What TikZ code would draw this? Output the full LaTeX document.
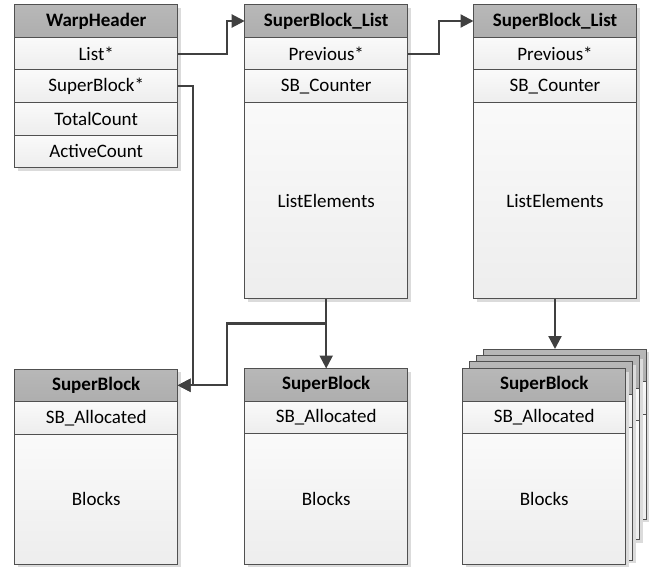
\documentclass[tikz,border=0pt]{standalone}
\usepackage{fontspec}
\setmainfont{Carlito}
\usetikzlibrary{positioning,shadows,arrows.meta}

\definecolor{hdrgray}{RGB}{174,174,174}
\definecolor{linegray}{RGB}{64,64,64}
\definecolor{edgegray}{RGB}{80,80,80}

\newcommand{\cellfont}{\fontsize{19}{22}\selectfont}

\tikzset{
  cell/.style={rectangle, draw=edgegray, line width=0.9pt, minimum width=163pt, minimum height=32.6pt,
    inner sep=0pt, outer sep=0pt, text centered, top color=white!98!black, bottom color=white!93!black,
    font=\cellfont,
    drop shadow={shadow xshift=3pt, shadow yshift=-3pt, fill=black!14, opacity=1}},
  header/.style={cell, top color=hdrgray!88!white, bottom color=hdrgray, font=\cellfont\bfseries},
  bigcell/.style={cell, minimum height=#1},
  link/.style={line width=2.2pt, draw=linegray, -{Triangle[length=13pt,width=13pt]}},
}

\begin{document}
\begin{tikzpicture}[x=1pt, y=-1pt]
\useasboundingbox (0,0) rectangle (664,566);
%
% Top row
%
\node (wh) [header, anchor=north west] at (14.7,4.7) {WarpHeader};
\node (wh-list) [cell, below=0pt of wh] {List*};
\node (wh-sb) [cell, below=0pt of wh-list] {SuperBlock*};
\node (wh-total) [cell, below=0pt of wh-sb] {TotalCount};
\node (wh-active) [cell, below=0pt of wh-total] {ActiveCount};

\node (sbl1) [header, anchor=north west] at (244.7,4.7) {SuperBlock\_List};
\node (sbl1-prev) [cell, below=0pt of sbl1] {Previous*};
\node (sbl1-cnt) [cell, below=0pt of sbl1-prev] {SB\_Counter};
\node (sbl1-elem) [bigcell=196, below=0pt of sbl1-cnt] {ListElements};

\node (sbl2) [header, anchor=north west] at (473.5,4.7) {SuperBlock\_List};
\node (sbl2-prev) [cell, below=0pt of sbl2] {Previous*};
\node (sbl2-cnt) [cell, below=0pt of sbl2-prev] {SB\_Counter};
\node (sbl2-elem) [bigcell=196, below=0pt of sbl2-cnt] {ListElements};
%
% Bottom row
%
\node (sb1) [header, anchor=north west] at (14.7,369) {SuperBlock};
\node (sb1-alloc) [cell, below=0pt of sb1] {SB\_Allocated};
\node (sb1-blocks) [bigcell=130.5, below=0pt of sb1-alloc] {Blocks};

\node (sb2) [header, anchor=north west] at (244.7,368.5) {SuperBlock};
\node (sb2-alloc) [cell, below=0pt of sb2] {SB\_Allocated};
\node (sb2-blocks) [bigcell=130.5, below=0pt of sb2-alloc] {Blocks};

% stacked superblocks, back to front
\foreach \dx/\dy/\bh [count=\i] in {20.6/19.5/105, 13.9/13/119, 7.2/6.6/133} {
  \node (stack\i) [header, anchor=north west] at (462.7+\dx,368.5-\dy) {};
  \node (stack\i-row) [cell, below=0pt of stack\i] {};
  \node (stack\i-body) [bigcell=\bh, below=0pt of stack\i-row] {};
}
\node (sb3) [header, anchor=north west] at (462.7,368.5) {SuperBlock};
\node (sb3-alloc) [cell, below=0pt of sb3] {SB\_Allocated};
\node (sb3-blocks) [bigcell=130.5, below=0pt of sb3-alloc] {Blocks};
%
% Connect nodes
%
\path (sbl1-elem.south) ++(0,25) coordinate (split);
\draw [link] (wh-list.east) -- ++(49,0) |- (sbl1.west);
\draw [link] (wh-sb.east) -- ++(15,0) |- (sb1.east);
\draw [link] (sbl1-elem.south) -- (sb2.north);
\draw [link] (split) -- ++(-99,0) |- (sb1.east);
\draw [link] (sbl1-prev.east) -- ++(31.5,0) |- (sbl2.west);
\draw [link] (sbl2-elem.south) -- (sbl2-elem.south |- stack1.north);
\end{tikzpicture}
\end{document}
